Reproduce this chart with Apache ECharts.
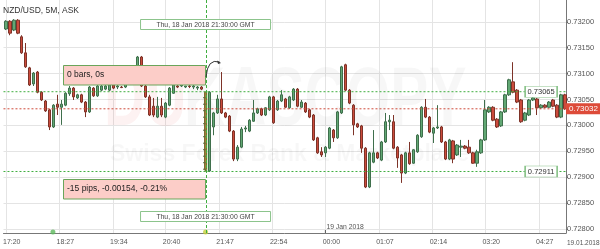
<!DOCTYPE html>
<html><head><meta charset="utf-8">
<script src="https://cdn.jsdelivr.net/npm/echarts@6/dist/echarts.min.js"></script>
<style>html,body{margin:0;padding:0;background:#fff}#c{width:600px;height:249px}</style>
</head><body><div id="c"></div>
<script>
const timeLabels = ['17:20','18:27','19:34','20:40','21:47','22:54','00:00','01:07','02:14','03:20','04:27'];
const priceTickLabels = ['0.72800','0.72850','0.72900','0.72950','0.73000','0.73050','0.73100','0.73150','0.73200'];
const firstBar = '17:20';
const barMinutes = 5;
const crossTime = '21:30';
const measureHigh = 0.73065;
const measureLow = 0.72911;
const lastPrice = 0.73032;
const eventTimes = ['18:19','21:30'];

const opens = [
.73186,.73201,.73184,.73203,.73171,.73140,.73111,.73080,.73103,.73064,
.73047,.73030,.72997,.73041,.73035,.73039,.73061,.73072,.73053,.73059,
.73045,.73026,.73072,.73057,.73068,.73070,.73068,.73078,.73074,.73074,
.73074,.73088,.73097,.73103,.73132,.73076,.73055,.73037,.73016,.73037,
.73016,.73039,.73062,.73076,.73076,.73074,.73076,.73074,.73072,.73074,
.73064,.72912,.72997,.73024,.73051,.73024,.73018,.72989,.72935,.72958,
.72993,.72989,.73008,.73024,.73032,.73020,.73030,.73055,.73030,.73047,
.73051,.73034,.73049,.73070,.73035,.73043,.73030,.73020,.72976,.72949,
.72947,.72956,.72991,.72976,.73024,.73117,.73068,.73039,.73003,.72999,
.72956,.72881,.72929,.72947,.72933,.72968,.73007,.73007,.72958,.72943,
.72908,.72947,.72927,.72949,.72978,.73035,.73016,.72985,.72995,.72997,
.72968,.72935,.72970,.72943,.72958,.72960,.72958,.72947,.72927,.72947,
.72972,.73026,.73035,.73012,.72999,.73026,.73059,.73084,.73068,.73049,
.73010,.73020,.73049,.73051,.73034,.73039,.73035,.73049,.73039,.73016,
.73059];
const closes = [
.73201,.73178,.73203,.73178,.73140,.73113,.73078,.73101,.73064,.73049,
.73028,.72997,.73039,.73035,.73041,.73062,.73072,.73055,.73059,.73045,
.73026,.73074,.73057,.73076,.73076,.73076,.73078,.73072,.73076,.73073,
.73088,.73097,.73107,.73132,.73076,.73055,.73020,.73020,.73037,.73020,
.73043,.73072,.73078,.73074,.73078,.73076,.73075,.73076,.73074,.73070,
.72915,.73064,.73024,.73051,.73024,.73016,.72989,.72935,.72958,.72993,
.72995,.73010,.73024,.73032,.73020,.73034,.73055,.73005,.73047,.73059,
.73035,.73055,.73070,.73037,.73045,.73026,.73016,.72972,.72947,.72943,
.72958,.72995,.72976,.73026,.73113,.73068,.73043,.73001,.72997,.72956,
.72881,.72947,.72947,.72937,.72968,.73007,.73010,.72956,.72937,.72908,
.72947,.72926,.72953,.72981,.73035,.73016,.72987,.72995,.72997,.72968,
.72935,.72972,.72935,.72962,.72960,.72956,.72947,.72927,.72949,.72972,
.73030,.73035,.73010,.72997,.73026,.73059,.73088,.73064,.73045,.73007,
.73024,.73049,.73053,.73034,.73039,.73035,.73045,.73037,.73016,.73059,
.73032];
const lows = [
.73184,.73174,.73182,.73176,.73138,.73111,.73076,.73076,.73062,.73047,
.73026,.72991,.72995,.73020,.73001,.73037,.73057,.73049,.73051,.73043,
.73016,.73024,.73055,.73055,.73066,.73068,.73066,.73070,.73070,.73072,
.73072,.73086,.73095,.73101,.73074,.73053,.73018,.73016,.73014,.73016,
.73014,.73037,.73061,.73072,.73074,.73072,.73072,.73070,.73068,.73068,
.72911,.72910,.72981,.73022,.73022,.73014,.72987,.72931,.72931,.72956,
.72987,.72987,.73007,.73022,.73018,.73018,.73028,.73003,.73028,.73045,
.73034,.73032,.73047,.73035,.73034,.73024,.73014,.72970,.72945,.72939,
.72939,.72954,.72968,.72974,.73022,.73066,.73041,.72981,.72995,.72947,
.72879,.72879,.72927,.72935,.72931,.72966,.72991,.72954,.72918,.72889,
.72906,.72924,.72926,.72947,.72976,.73014,.72985,.72966,.72993,.72966,
.72933,.72933,.72927,.72941,.72939,.72954,.72945,.72926,.72920,.72945,
.72970,.73024,.73008,.72995,.72997,.73024,.73057,.73062,.73043,.73005,
.73008,.73018,.73047,.73020,.73032,.73034,.73034,.73035,.73014,.73014,
.73030];
const highs = [
.73203,.73203,.73205,.73205,.73174,.73159,.73113,.73103,.73105,.73066,
.73049,.73032,.73041,.73059,.73049,.73064,.73076,.73074,.73061,.73061,
.73047,.73076,.73074,.73078,.73080,.73078,.73080,.73080,.73078,.73076,
.73091,.73101,.73111,.73134,.73134,.73080,.73059,.73053,.73055,.73053,
.73045,.73074,.73080,.73078,.73082,.73076,.73080,.73078,.73076,.73076,
.73065,.73066,.73026,.73059,.73103,.73026,.73020,.72991,.72962,.72997,
.72999,.73012,.73049,.73034,.73034,.73035,.73057,.73057,.73049,.73068,
.73053,.73057,.73072,.73072,.73049,.73045,.73032,.73022,.72978,.72958,
.72960,.72997,.72993,.73028,.73115,.73119,.73070,.73041,.73005,.73001,
.72958,.72949,.72991,.72949,.72970,.73024,.73020,.73020,.72960,.72945,
.72949,.72968,.72954,.72983,.73037,.73051,.73018,.72997,.73039,.72999,
.72970,.72974,.72972,.72964,.72972,.72962,.72972,.72949,.72953,.72974,
.73049,.73037,.73037,.73014,.73028,.73061,.73090,.73122,.73070,.73051,
.73026,.73051,.73057,.73053,.73041,.73041,.73047,.73051,.73041,.73061,
.73061];

const FONT = '"Liberation Sans", Arial, sans-serif';
function toMinRaw(s){ const [h, m] = s.split(':').map(Number); return h * 60 + m; }
const toMin = s => { const b = toMinRaw(firstBar); let v = toMinRaw(s); if (v < b) v += 1440; return v - b; };
const tickMins = timeLabels.map(toMin);
const labelShift = 7.5;
const candleData = opens.map((o, i) => [i * barMinutes, o, closes[i], lows[i], highs[i]]);
const yTicks = priceTickLabels.map(Number);
const crossT = toMin(crossTime);
const xMin = -2.86, xMax = 701.1;
const yMin = 0.727923, yMax = 0.73242;
const GREEN = '#3fae3f', RED = '#cf4a3a';

function hLine(v, color, extra) {
  return Object.assign({
    type: 'line', z: 4, silent: true, symbol: 'none', animation: false,
    data: [[xMin, v], [xMax, v]],
    lineStyle: {color: color, type: [2, 2], width: 1},
    itemStyle: {color: color},
    emphasis: {disabled: true}
  }, extra || {});
}

const chart = echarts.init(document.getElementById('c'), null, {renderer: 'canvas', width: 600, height: 249});

const option = {
  animation: false,
  backgroundColor: '#ffffff',
  grid: {left: 0, top: 0, width: 566, height: 233},
  xAxis: {
    type: 'value', min: xMin, max: xMax,
    axisLine: {show: true, onZero: false, lineStyle: {color: '#777', width: 1}},
    axisTick: {show: false, customValues: tickMins},
    splitLine: {show: true, lineStyle: {color: '#e4e4e4', width: 1}},
    axisLabel: {
      customValues: tickMins.map(v => v + labelShift),
      formatter: v => { const k = tickMins.findIndex(t => Math.abs(t + labelShift - v) < 0.01); return k >= 0 ? timeLabels[k] : ''; },
      fontSize: 7, color: '#555', margin: 6, fontFamily: FONT
    }
  },
  yAxis: {
    type: 'value', position: 'right', min: yMin, max: yMax,
    axisLine: {show: true, onZero: false, lineStyle: {color: '#777', width: 1}},
    axisTick: {show: true, length: 2, customValues: yTicks, lineStyle: {color: '#777'}},
    splitLine: {show: true, lineStyle: {color: '#e4e4e4', width: 1}},
    axisLabel: {customValues: yTicks, formatter: v => v.toFixed(5), fontSize: 7.5, color: '#555', margin: 1, fontFamily: FONT}
  },
  series: [
    {
      type: 'candlestick', z: 3, data: candleData, encode: {x: 0, y: [1, 2, 3, 4]}, barWidth: 3,
      itemStyle: {color: '#62a874', color0: '#cc4b3c', borderColor: '#3f6f4c', borderColor0: '#7d3328', borderWidth: 1}
    },
    hLine(measureHigh, GREEN),
    hLine(measureLow, GREEN),
    hLine(lastPrice, RED, {
      endLabel: {show: true, formatter: lastPrice.toFixed(5), distance: 0, backgroundColor: '#dd4b39', color: '#fff', padding: [2, 3, 1, 3], fontSize: 8, fontFamily: FONT}
    }),
    {
      type: 'scatter', z: 20, symbolSize: 5, silent: true, clip: false,
      data: [
        {value: [toMin(eventTimes[0]), yMin + 0.00002], itemStyle: {color: '#5cb85c'}},
        {value: [toMin(eventTimes[1]), yMin + 0.00002], itemStyle: {color: '#c5cf3a'}}
      ],
      markPoint: {
        silent: true, animation: false, symbol: 'rect', symbolSize: [32, 11],
        itemStyle: {color: '#fff', borderColor: '#8cc48c', borderWidth: 1},
        label: {show: true, position: 'inside', color: '#333', fontSize: 7.5, fontFamily: FONT, formatter: p => p.value},
        data: [
          {coord: [670, measureHigh], value: measureHigh.toFixed(5)},
          {coord: [670, measureLow], value: measureLow.toFixed(5)}
        ]
      }
    }
  ]
};
chart.setOption(option);

const cx = chart.convertToPixel({gridIndex: 0}, [crossT, measureHigh]);
const hiY = cx[1];
const loY = chart.convertToPixel({gridIndex: 0}, [crossT, measureLow])[1];
const midX = cx[0];
const topY = chart.convertToPixel({gridIndex: 0}, [crossT, yMax])[1];
const botY = chart.convertToPixel({gridIndex: 0}, [crossT, yMin])[1];
const lineX = Math.round(midX) + 0.5;
const dayX = chart.convertToPixel({gridIndex: 0}, [toMin('00:00'), yMin])[0];
const rulerTicks = [];
for (let y = hiY + 6; y < loY - 2; y += 6.5) {
  rulerTicks.push({type: 'line', z: 60, shape: {x1: midX - 2.5, y1: y, x2: midX, y2: y}, style: {stroke: '#5a6a3a', lineWidth: 1}});
}
const wmGray = 'rgba(0,0,0,0.03)';
const wmPink = 'rgba(215,40,40,0.06)';
const graphic = [
  {type: 'text', z: 0, x: 104, y: 60, scaleX: 0.68, style: {text: 'DU', font: 'bold 84px ' + FONT, fill: wmPink}},
  {type: 'text', z: 0, x: 184, y: 60, scaleX: 0.68, style: {text: 'KASCOPY', font: 'bold 84px ' + FONT, fill: wmGray}},
  {type: 'text', z: 0, left: 110, top: 143, style: {text: 'Swiss Forex Bank & Marketplace', font: 'bold 23px ' + FONT, fill: wmGray}},
  {type: 'text', z: 50, left: 3, top: 6, style: {text: 'NZD/USD, 5M, ASK', font: '8.5px ' + FONT, fill: '#333'}},
  {type: 'rect', z: 50, shape: {x: midX - 1.5, y: hiY, width: 3.5, height: loY - hiY}, style: {fill: 'rgba(120,175,60,0.5)'}},
  ...rulerTicks,
  {type: 'line', z: 65, shape: {x1: lineX, y1: topY, x2: lineX, y2: botY}, style: {stroke: GREEN, lineWidth: 1, lineDash: [3, 2]}},
  {type: 'rect', z: 70, shape: {x: 63.5, y: 65.5, width: midX - 63.5, height: 19.5}, style: {fill: '#fccdc8', stroke: '#6aa55a', lineWidth: 1}},
  {type: 'text', z: 71, left: 67, top: 70, style: {text: '0 bars, 0s', font: '8.5px ' + FONT, fill: '#222'}},
  {type: 'rect', z: 70, shape: {x: 63.5, y: 179.5, width: midX - 63.5, height: 19.5}, style: {fill: '#fccdc8', stroke: '#6aa55a', lineWidth: 1}},
  {type: 'text', z: 71, left: 67, top: 184.5, style: {text: '-15 pips, -0.00154, -0.21%', font: '8.5px ' + FONT, fill: '#222'}},
  {type: 'rect', z: 70, shape: {x: midX - 65, y: 19.5, width: 130, height: 10}, style: {fill: '#fff', stroke: '#8cc48c', lineWidth: 1}},
  {type: 'text', z: 71, x: midX, y: 24.8, style: {text: 'Thu, 18 Jan 2018 21:30:00 GMT', font: '6.8px ' + FONT, fill: '#444', align: 'center', verticalAlign: 'middle'}},
  {type: 'rect', z: 70, shape: {x: midX - 65, y: 211.5, width: 130, height: 10}, style: {fill: '#fff', stroke: '#8cc48c', lineWidth: 1}},
  {type: 'text', z: 71, x: midX, y: 216.8, style: {text: 'Thu, 18 Jan 2018 21:30:00 GMT', font: '6.8px ' + FONT, fill: '#444', align: 'center', verticalAlign: 'middle'}},
  {type: 'bezierCurve', z: 72, shape: {x1: midX + 0.5, y1: 77, x2: midX + 14, y2: 62, cpx1: midX + 2, cpy1: 58}, style: {stroke: '#333', lineWidth: 1, fill: null}},
  {type: 'polygon', z: 72, shape: {points: [[midX + 15.5, 63], [midX + 11.5, 60.5], [midX + 12.5, 64]]}, style: {fill: '#333'}},
  {type: 'line', z: 50, shape: {x1: dayX, y1: 230, x2: dayX, y2: 233}, style: {stroke: '#555', lineWidth: 1}},
  {type: 'text', z: 50, left: dayX + 1, top: 224, style: {text: '19 Jan 2018', font: '6.8px ' + FONT, fill: '#555'}},
  {type: 'text', z: 50, left: 567, top: 239.5, style: {text: '19.01.2018', font: '6.5px ' + FONT, fill: '#555'}}
];
chart.setOption({graphic: graphic});
</script></body></html>
